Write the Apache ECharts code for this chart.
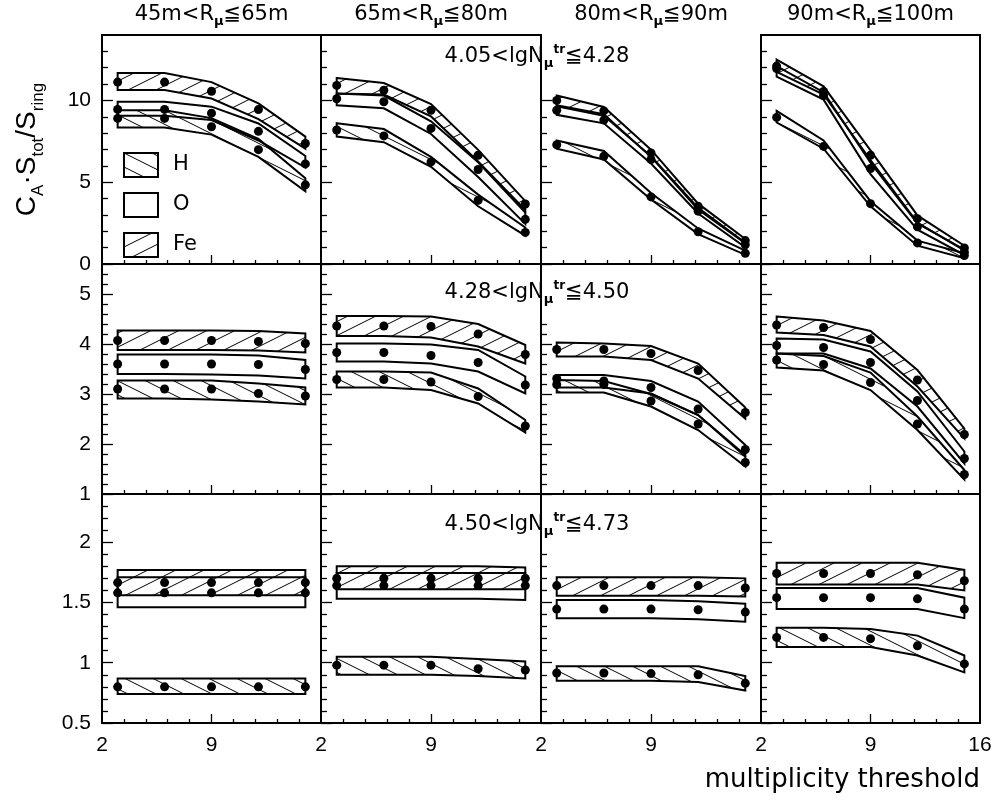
<!DOCTYPE html>
<html>
<head>
<meta charset="utf-8">
<script src="https://cdn.jsdelivr.net/npm/echarts@6.0.0/dist/echarts.min.js"></script>
<style>
html, body { margin: 0; padding: 0; background: #fff; }
#main { width: 998px; height: 801px; }
</style>
</head>
<body>
<div id="main"></div>
<script>
// multiplicity thresholds where the bands / points are given
var thresholds = [3, 6, 9, 12, 15];
var radiusBins = [['45m', '65m'], ['65m', '80m'], ['80m', '90m'], ['90m', '100m']];
var lgNBins = [['4.05', '4.28'], ['4.28', '4.50'], ['4.50', '4.73']];

var xLabelTicks = [2, 9, 16];
var xMajorTicks = [9];
var xMinorTicks = [3.4, 4.8, 6.2, 7.6, 10.4, 11.8, 13.2, 14.6];

var yRanges = [[0, 14], [1, 5.6], [0.5, 2.4]];
var yTopCol3 = [10.6, 4.54, 1.93];
var yMajorTicks = [[0, 5, 10], [1, 2, 3, 4, 5], [0.5, 1, 1.5, 2]];
var yMinorTicks = [
	[1, 2, 3, 4, 6, 7, 8, 9, 11, 12, 13],
	[1.2, 1.4, 1.6, 1.8, 2.2, 2.4, 2.6, 2.8, 3.2, 3.4, 3.6, 3.8, 4.2, 4.4, 4.6, 4.8, 5.2, 5.4],
	[0.6, 0.7, 0.8, 0.9, 1.1, 1.2, 1.3, 1.4, 1.6, 1.7, 1.8, 1.9, 2.1, 2.2, 2.3]
];

// [row][column] -> values at each threshold
var hHi = [
	[[9.40, 9.40, 8.92, 7.65, 5.24], [8.61, 8.25, 6.55, 4.24, 2.23], [7.55, 6.91, 4.34, 2.17, 0.82], [9.36, 7.55, 3.84, 1.43, 0.66]],
	[[3.27, 3.27, 3.27, 3.21, 3.13], [3.45, 3.45, 3.43, 3.11, 2.48], [3.28, 3.26, 3.00, 2.58, 1.75], [3.81, 3.76, 3.43, 2.55, 1.48]],
	[[0.87, 0.87, 0.87, 0.87, 0.87], [1.05, 1.05, 1.05, 1.03, 1.01], [0.97, 0.97, 0.97, 0.97, 0.89], [1.29, 1.29, 1.28, 1.225, 1.06]]
];
var hLo = [
	[[8.35, 8.35, 7.91, 6.55, 4.44], [7.79, 7.45, 5.94, 3.53, 1.73], [7.05, 6.39, 3.94, 1.83, 0.56], [8.65, 7.05, 3.53, 1.12, 0.36]],
	[[2.91, 2.91, 2.89, 2.85, 2.79], [3.13, 3.13, 3.08, 2.81, 2.23], [3.03, 3.03, 2.75, 2.28, 1.55], [3.53, 3.47, 3.08, 2.28, 1.29]],
	[[0.74, 0.74, 0.74, 0.74, 0.74], [0.90, 0.90, 0.90, 0.89, 0.87], [0.85, 0.85, 0.85, 0.84, 0.77], [1.13, 1.13, 1.13, 1.06, 0.92]]
];
var hPt = [
	[[8.90, 8.90, 8.39, 6.99, 4.84], [8.19, 7.83, 6.24, 3.90, 1.93], [7.29, 6.59, 4.10, 1.97, 0.66], [8.96, 7.19, 3.69, 1.29, 0.52]],
	[[3.10, 3.10, 3.10, 3.01, 2.96], [3.29, 3.29, 3.24, 2.95, 2.36], [3.19, 3.19, 2.86, 2.40, 1.63], [3.68, 3.59, 3.23, 2.40, 1.39]],
	[[0.80, 0.80, 0.80, 0.80, 0.80], [0.98, 0.98, 0.98, 0.95, 0.94], [0.915, 0.915, 0.91, 0.90, 0.83], [1.21, 1.21, 1.20, 1.14, 0.99]]
];
var oHi = [
	[[9.92, 9.92, 9.62, 8.59, 6.60], [10.42, 10.30, 8.72, 6.22, 3.15], [9.65, 9.06, 6.59, 3.43, 1.30], [12.10, 10.50, 6.20, 2.48, 0.88]],
	[[3.79, 3.79, 3.79, 3.77, 3.68], [4.01, 4.01, 3.99, 3.88, 3.35], [3.38, 3.38, 3.26, 2.85, 1.98], [4.11, 4.09, 3.85, 3.05, 1.85]],
	[[1.71, 1.71, 1.71, 1.71, 1.71], [1.745, 1.745, 1.745, 1.745, 1.745], [1.52, 1.52, 1.52, 1.51, 1.49], [1.62, 1.62, 1.62, 1.62, 1.54]]
];
var oLo = [
	[[9.06, 9.06, 8.80, 7.55, 5.90], [9.70, 9.52, 7.95, 5.32, 2.45], [9.12, 8.60, 6.14, 3.09, 1.02], [11.45, 10.05, 5.50, 2.10, 0.55]],
	[[3.40, 3.40, 3.39, 3.37, 3.31], [3.65, 3.65, 3.61, 3.45, 3.01], [3.13, 3.13, 3.01, 2.58, 1.78], [3.81, 3.81, 3.51, 2.75, 1.61]],
	[[1.46, 1.46, 1.46, 1.46, 1.46], [1.53, 1.53, 1.53, 1.53, 1.52], [1.37, 1.37, 1.37, 1.36, 1.34], [1.445, 1.445, 1.445, 1.445, 1.37]]
];
var oPt = [
	[[9.45, 9.45, 9.22, 8.11, 6.12], [10.10, 9.92, 8.29, 5.78, 2.73], [9.40, 8.80, 6.39, 3.23, 1.18], [11.95, 10.30, 5.84, 2.27, 0.72]],
	[[3.60, 3.60, 3.60, 3.59, 3.49], [3.83, 3.83, 3.77, 3.63, 3.18], [3.31, 3.26, 3.13, 2.70, 1.89], [3.97, 3.93, 3.63, 2.87, 1.71]],
	[[1.58, 1.58, 1.58, 1.58, 1.58], [1.64, 1.64, 1.64, 1.64, 1.64], [1.445, 1.445, 1.445, 1.44, 1.42], [1.54, 1.54, 1.54, 1.53, 1.445]]
];
var feHi = [
	[[11.67, 11.67, 11.12, 9.82, 7.79], [11.37, 11.06, 9.78, 6.98, 3.85], [10.30, 9.60, 6.99, 3.69, 1.53], [12.50, 10.86, 6.95, 2.97, 1.12]],
	[[4.27, 4.27, 4.27, 4.26, 4.21], [4.56, 4.56, 4.55, 4.40, 3.98], [4.03, 4.01, 3.96, 3.61, 2.73], [4.55, 4.47, 4.26, 3.48, 2.31]],
	[[1.77, 1.77, 1.77, 1.77, 1.77], [1.80, 1.80, 1.80, 1.80, 1.79], [1.71, 1.71, 1.71, 1.71, 1.70], [1.83, 1.83, 1.83, 1.83, 1.77]]
];
var feLo = [
	[[10.64, 10.64, 10.12, 8.86, 7.05], [10.42, 10.36, 9.02, 6.27, 3.30], [9.70, 9.16, 6.55, 3.33, 1.27], [11.75, 10.36, 6.35, 2.53, 0.82]],
	[[3.88, 3.88, 3.88, 3.87, 3.83], [4.16, 4.16, 4.13, 3.95, 3.61], [3.75, 3.75, 3.68, 3.31, 2.51], [4.23, 4.18, 3.95, 3.15, 2.11]],
	[[1.56, 1.56, 1.56, 1.56, 1.56], [1.61, 1.61, 1.61, 1.61, 1.61], [1.555, 1.555, 1.555, 1.555, 1.55], [1.65, 1.65, 1.65, 1.65, 1.60]]
];
var fePt = [
	[[11.12, 11.12, 10.56, 9.44, 7.37], [10.92, 10.62, 9.40, 6.65, 3.67], [10.00, 9.36, 6.79, 3.53, 1.43], [12.10, 10.55, 6.65, 2.77, 0.98]],
	[[4.07, 4.07, 4.07, 4.05, 4.01], [4.36, 4.36, 4.35, 4.20, 3.79], [3.89, 3.89, 3.81, 3.47, 2.63], [4.38, 4.33, 4.09, 3.28, 2.19]],
	[[1.665, 1.665, 1.665, 1.665, 1.665], [1.70, 1.70, 1.70, 1.70, 1.70], [1.64, 1.64, 1.64, 1.64, 1.62], [1.74, 1.74, 1.74, 1.73, 1.68]]
];

var FONT = '"Liberation Sans", Arial, Helvetica, sans-serif';
var TEXT_FONT = '"DejaVu Sans", "Liberation Sans", sans-serif';
var colEdges = [102, 321, 541, 761, 980];
var rowEdges = [35, 264, 494, 723];

// diagonal hatching tile, dir > 0 -> '/', otherwise '\'
function hatch(dir) {
	var w = 28, h = 14;
	var cv = document.createElement('canvas');
	cv.width = w;
	cv.height = h;
	var ctx = cv.getContext('2d');
	ctx.strokeStyle = '#000';
	ctx.lineWidth = 1;
	for (var k = -1; k <= 1; k++) {
		ctx.beginPath();
		if (dir > 0) {
			ctx.moveTo(0, h + k * h);
			ctx.lineTo(w, k * h);
		} else {
			ctx.moveTo(0, k * h);
			ctx.lineTo(w, h + k * h);
		}
		ctx.stroke();
	}
	return { image: cv, repeat: 'repeat' };
}

var species = [
	{ name: 'H', lo: hLo, hi: hHi, pt: hPt, fill: hatch(-1) },
	{ name: 'O', lo: oLo, hi: oHi, pt: oPt, fill: 'rgba(255,255,255,0)' },
	{ name: 'Fe', lo: feLo, hi: feHi, pt: fePt, fill: hatch(1) }
];

function bandRenderer(fill) {
	return function (params, api) {
		if (params.dataIndexInside !== 0) return null;
		var n = params.dataInsideLength;
		var upper = [], lower = [];
		for (var i = 0; i < n; i++) {
			upper.push(api.coord([api.value(0, i), api.value(2, i)]));
			lower.push(api.coord([api.value(0, i), api.value(1, i)]));
		}
		return {
			type: 'polygon',
			shape: { points: upper.concat(lower.reverse()) },
			style: { fill: fill, stroke: '#000', lineWidth: 2 }
		};
	};
}

var grids = [], xAxes = [], yAxes = [], series = [];

function addPanel(r, c) {
	var gi = r * 4 + c;
	var ymin = yRanges[r][0], ymaxRow = yRanges[r][1];
	var ymax = c === 2 ? yTopCol3[r] : ymaxRow;
	var gridBottom = rowEdges[r + 1];
	var pxPerUnit = (rowEdges[r + 1] - rowEdges[r]) / (ymaxRow - ymin);
	var gridTop = gridBottom - (ymax - ymin) * pxPerUnit;

	grids.push({
		left: colEdges[c], top: gridTop,
		width: colEdges[c + 1] - colEdges[c], height: gridBottom - gridTop,
		show: c !== 2, borderColor: '#000', borderWidth: 2, backgroundColor: 'transparent'
	});

	xAxes.push({
		gridIndex: gi, type: 'value', min: 2, max: 16, position: 'bottom',
		axisLine: { onZero: false, lineStyle: { color: '#000', width: 2 } },
		axisTick: { inside: true, length: 4, customValues: xMinorTicks, lineStyle: { color: '#000', width: 1.3 } },
		axisLabel: {
			show: r === 2, customValues: c === 3 ? xLabelTicks : xLabelTicks.slice(0, 2),
			color: '#000', fontSize: 21, fontFamily: FONT, margin: 12
		},
		splitLine: { show: false }
	});
	xAxes.push({
		gridIndex: gi, type: 'value', min: 2, max: 16, position: 'bottom',
		axisLine: { show: false, onZero: false },
		axisTick: { inside: true, length: 9, customValues: xMajorTicks, lineStyle: { color: '#000', width: 1.3 } },
		axisLabel: { show: false },
		splitLine: { show: false }
	});

	var majors = yMajorTicks[r].filter(function (v) { return v <= ymax; });
	var minors = yMinorTicks[r].filter(function (v) { return v < ymax; });
	var yMain = {
		gridIndex: gi, type: 'value', min: ymin, max: ymax, position: 'left',
		axisLine: { onZero: false, lineStyle: { color: '#000', width: 2 } },
		axisTick: { inside: true, length: 11, customValues: majors, lineStyle: { color: '#000', width: 1.3 } },
		axisLabel: {
			show: c === 0, customValues: majors,
			color: '#000', fontSize: 21, fontFamily: FONT, margin: 11
		},
		splitLine: { show: false }
	};
	if (gi === 0) {
		yMain.name = '{n|C}{s|A}{n|·S}{s|tot}{n|/S}{s|ring}';
		yMain.nameLocation = 'middle';
		yMain.nameRotate = 90;
		yMain.nameGap = 55;
		yMain.nameTextStyle = {
			color: '#000',
			rich: {
				n: { fontSize: 28, lineHeight: 40, fontFamily: FONT, color: '#000' },
				s: { fontSize: 17, lineHeight: 20, verticalAlign: 'bottom', fontFamily: FONT, color: '#000' }
			}
		};
	}
	yAxes.push(yMain);
	yAxes.push({
		gridIndex: gi, type: 'value', min: ymin, max: ymax, position: 'left',
		axisLine: { show: false, onZero: false },
		axisTick: { inside: true, length: 6, customValues: minors, lineStyle: { color: '#000', width: 1.3 } },
		axisLabel: { show: false },
		splitLine: { show: false }
	});

	species.forEach(function (sp) {
		series.push({
			type: 'custom', name: sp.name,
			xAxisIndex: 2 * gi, yAxisIndex: 2 * gi,
			clip: false, silent: true, z: 2,
			itemStyle: { color: sp.fill },
			encode: { x: 0, y: [1, 2] },
			data: thresholds.map(function (x, i) { return [x, sp.lo[r][c][i], sp.hi[r][c][i]]; }),
			renderItem: bandRenderer(sp.fill)
		});
	});
	species.forEach(function (sp) {
		series.push({
			type: 'scatter', name: sp.name + ' points',
			xAxisIndex: 2 * gi, yAxisIndex: 2 * gi,
			symbol: 'circle', symbolSize: 9, silent: true, z: 3,
			itemStyle: { color: '#000', opacity: 1 },
			data: thresholds.map(function (x, i) { return [x, sp.pt[r][c][i]]; })
		});
	});
}

for (var row = 0; row < 3; row++) {
	for (var col = 0; col < 4; col++) {
		addPanel(row, col);
	}
}

var headRich = {
	n: { fontSize: 21, lineHeight: 26, fontFamily: TEXT_FONT, color: '#000' },
	s: { fontSize: 13, lineHeight: 13, fontWeight: 'bold', verticalAlign: 'bottom', fontFamily: TEXT_FONT, color: '#000' }
};
var noteRich = {
	n: { fontSize: 21, lineHeight: 26, fontFamily: TEXT_FONT, color: '#000' },
	sub: { fontSize: 13, lineHeight: 13, fontWeight: 'bold', verticalAlign: 'bottom', fontFamily: TEXT_FONT, color: '#000' },
	sup: { fontSize: 12, lineHeight: 12, fontWeight: 'bold', verticalAlign: 'top', fontFamily: TEXT_FONT, color: '#000' }
};
var noteTops = [44, 280, 512];

var titles = [];
radiusBins.forEach(function (b, c) {
	titles.push({
		text: '{n|' + b[0] + '<R}{s|μ}{n|≦' + b[1] + '}',
		left: (colEdges[c] + colEdges[c + 1]) / 2, top: 2, textAlign: 'center', padding: 0,
		textStyle: { fontSize: 21, fontWeight: 'normal', fontFamily: TEXT_FONT, color: '#000', rich: headRich }
	});
});
lgNBins.forEach(function (b, r) {
	titles.push({
		text: '{n|' + b[0] + '<lgN}{sub|μ}{sup|tr}{n|≦' + b[1] + '}',
		left: 537, top: noteTops[r], textAlign: 'center', padding: 0,
		textStyle: { fontSize: 21, fontWeight: 'normal', fontFamily: TEXT_FONT, color: '#000', rich: noteRich }
	});
});
titles.push({
	text: 'multiplicity threshold',
	left: 980, top: 765, textAlign: 'right', padding: 0,
	textStyle: { fontSize: 26, fontWeight: 'normal', fontFamily: TEXT_FONT, color: '#000', lineHeight: 30 }
});

var option = {
	animation: false,
	backgroundColor: '#fff',
	title: titles,
	legend: {
		orient: 'vertical', left: 123, top: 152, padding: 0,
		itemWidth: 34, itemHeight: 24, itemGap: 14, selectedMode: false,
		textStyle: { fontSize: 21, color: '#000', fontFamily: TEXT_FONT, padding: [0, 0, 0, 10] },
		data: species.map(function (sp) {
			return { name: sp.name, icon: 'rect', itemStyle: { color: sp.fill, borderColor: '#000', borderWidth: 2 } };
		})
	},
	grid: grids,
	xAxis: xAxes,
	yAxis: yAxes,
	series: series
};

var myChart = echarts.init(document.getElementById('main'));
myChart.setOption(option);
</script>
</body>
</html>
